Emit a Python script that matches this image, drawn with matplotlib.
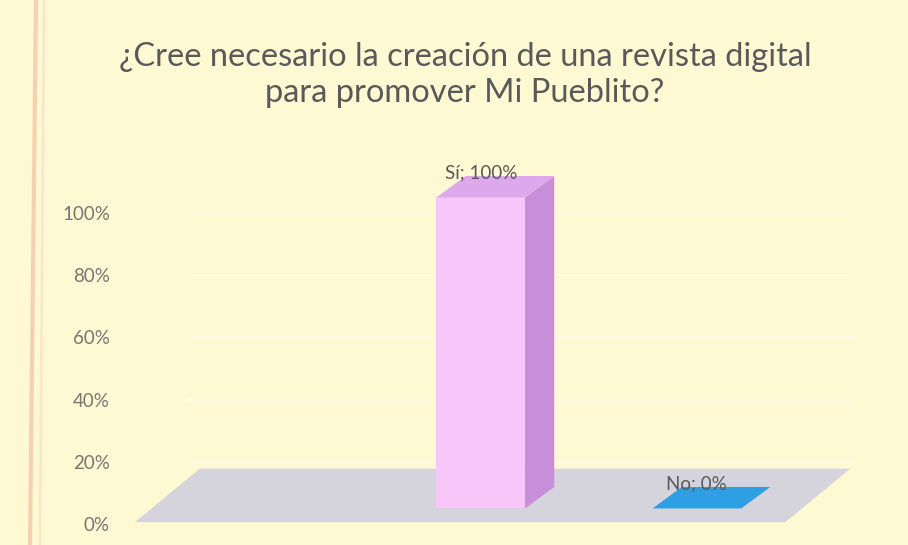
import matplotlib
matplotlib.use("Agg")
import matplotlib.pyplot as plt
from matplotlib.patches import Polygon
from matplotlib.lines import Line2D

# data
categories = ["Sí", "No"]
values = [1.0, 0.0]
ticks = [0, 0.2, 0.4, 0.6, 0.8, 1.0]
tick_labels = ["0%", "20%", "40%", "60%", "80%", "100%"]
title = "¿Cree necesario la creación de una revista digital\npara promover Mi Pueblito?"

# colours: front, side, top
bar_colors = [("#F9C6FA", "#C78ED9", "#DDA8EC"), ("#2E9FE3", "#2586C4", "#2E9FE3")]
bg = "#FEF9D3"
floor_color = "#D5D3DB"
text_color = "#595959"

W, H = 908, 545
fig = plt.figure(figsize=(W / 100, H / 100), dpi=100)
fig.patch.set_facecolor(bg)

# axes placed in pixels: 0% at y=524, 100% at y=213
left_px, right_px, zero_px, full_px = 135, 860, 524, 213
unit = zero_px - full_px
ytop = 1.3
ax = fig.add_axes([left_px / W, (H - zero_px) / H, (right_px - left_px) / W, unit * ytop / H])
ax.set_facecolor("none")
ax.set_xlim(-1.6, 1.755)
ax.set_ylim(0, ytop)
for s in ax.spines.values():
    s.set_visible(False)
ax.set_xticks([])
ax.set_yticks(ticks)
ax.set_yticklabels(tick_labels, fontfamily="Lato", fontsize=13.5, color="#7A7572")
ax.tick_params(axis="y", length=0, pad=18)

# faint gridlines on the back wall
for t in ticks[1:]:
    ax.plot([-1.35, 1.73], [t, t], color="#FFFDEC", lw=1.2, zorder=0)

# floor
fx0, fx1, fdx, fdy = -1.6, 1.41, 0.3, 0.172
ax.add_patch(Polygon([(fx0, 0.006), (fx1, 0.006), (fx1 + fdx, 0.006 + fdy), (fx0 + fdx, 0.006 + fdy)],
                     closed=True, facecolor=floor_color, edgecolor="none", zorder=1))

# 3d-ish bars
bw, ddx, ddy, base = 0.41, 0.135, 0.069, 0.05
for i, (cat, v) in enumerate(zip(categories, values)):
    front, side, top = bar_colors[i]
    x0, x1 = i - bw / 2, i + bw / 2
    y0, y1 = base, base + v
    if v > 0:
        ax.add_patch(Polygon([(x1, y0), (x1 + ddx, y0 + ddy), (x1 + ddx, y1 + ddy), (x1, y1)],
                             facecolor=side, edgecolor="none", zorder=2))
        ax.add_patch(Polygon([(x0, y0), (x1, y0), (x1, y1), (x0, y1)],
                             facecolor=front, edgecolor="none", zorder=3))
    ax.add_patch(Polygon([(x0, y1), (x1, y1), (x1 + ddx, y1 + ddy), (x0 + ddx, y1 + ddy)],
                         facecolor=top, edgecolor="none", zorder=3))
    ax.text(i, y1 + ddy + 0.01, f"{cat}; {v:.0%}", ha="center", va="center",
            fontfamily="Lato", fontsize=13.5, color=text_color, zorder=4)

fig.text(465 / W, 1 - 75 / H, title, ha="center", va="center", fontfamily="Lato",
         fontsize=23.5, color=text_color, linespacing=1.25)

# paper edge on the left
fig.add_artist(Line2D([36 / W, 30 / W], [1, 0], color="#F2C9A6", lw=3, alpha=0.8))
fig.add_artist(Line2D([44 / W, 40 / W], [1, 0], color="#F8DCC0", lw=2, alpha=0.6))

fig.savefig("out.png", dpi=100, facecolor=bg)
